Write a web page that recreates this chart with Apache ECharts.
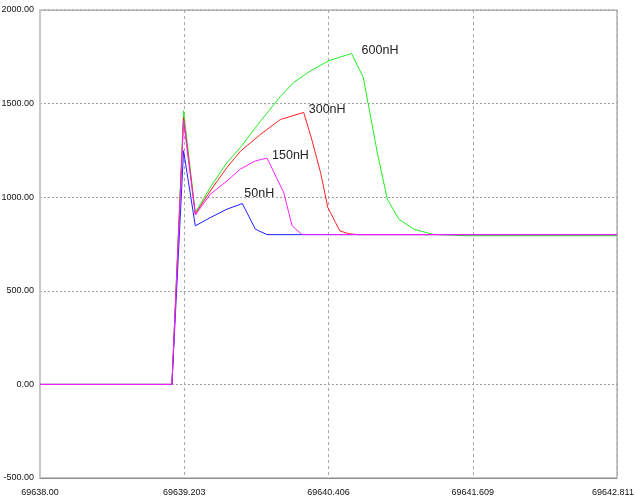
<!DOCTYPE html>
<html>
<head>
<meta charset="utf-8">
<script src="https://cdn.jsdelivr.net/npm/echarts@6/dist/echarts.min.js"></script>
<style>
  html, body { margin: 0; padding: 0; background: #fff; }
  #chart { width: 635px; height: 503px; }
</style>
</head>
<body>
<div id="chart"></div>
<script>
// Time axis: offsets (s) from the start time T0
const T0 = 69638;
const xTickLabels = ['69638.00', '69639.203', '69640.406', '69641.609', '69642.811'];
const yTickLabels = ['-500.00', '0.00', '500.00', '1000.00', '1500.00', '2000.00'];

// 50nH
const t50 = [0, 1.100, 1.197, 1.295, 1.420, 1.559, 1.687, 1.796, 1.893, 4.811];
const v50 = [0, 0, 1248, 847, 891, 936, 966, 829, 800, 800];

// 150nH
const t150 = [0, 1.100, 1.197, 1.295, 1.420, 1.559, 1.670, 1.796, 1.893, 2.032, 2.102, 2.186, 4.811];
const v150 = [0, 0, 1408, 905, 1016, 1087, 1150, 1194, 1209, 1025, 847, 800, 800];

// 300nH
const t300 = [0, 1.100, 1.197, 1.295, 1.420, 1.559, 1.670, 1.837, 2.004, 2.199, 2.269, 2.339, 2.400, 2.464, 2.500, 2.575, 2.650, 4.811];
const v300 = [0, 0, 1426, 910, 1034, 1159, 1245, 1335, 1415, 1453, 1301, 1132, 945, 865, 820, 805, 800, 800];

// 600nH
const t600 = [0, 1.100, 1.197, 1.295, 1.420, 1.559, 1.670, 1.837, 2.004, 2.116, 2.255, 2.408, 2.598, 2.695, 2.734, 2.812, 2.896, 2.993, 3.118, 3.272, 3.558, 4.811];
const v600 = [0, 0, 1462, 918, 1052, 1185, 1265, 1405, 1538, 1613, 1675, 1729, 1768, 1640, 1507, 1239, 989, 882, 829, 802, 794, 794];

const xMax = 4.811;
const xStep = xMax / 4;
const axisFont = '"Liberation Sans", Arial, sans-serif';

const seriesDefs = [
  { name: '600nH', t: t600, v: v600, color: '#22ee22', labelOffset: [10, -3] },
  { name: '300nH', t: t300, v: v300, color: '#ff2020', labelOffset: [5, -3] },
  { name: '50nH',  t: t50,  v: v50,  color: '#2020ff', labelOffset: [2, -10] },
  { name: '150nH', t: t150, v: v150, color: '#ff20ff', labelOffset: [5, -3] }
];

// index of the highest point after the switching spike
function peakIndex(t, v) {
  let best = -1;
  for (let i = 0; i < t.length; i++) {
    if (t[i] > 1.3 && (best < 0 || v[i] > v[best])) best = i;
  }
  return best;
}

const series = seriesDefs.map(d => {
  const p = peakIndex(d.t, d.v);
  return {
    name: d.name,
    type: 'line',
    data: d.t.map((t, i) => [t, d.v[i]]),
    showSymbol: false,
    symbol: 'none',
    lineStyle: { color: d.color, width: 1 },
    itemStyle: { color: d.color },
    emphasis: { disabled: true },
    markPoint: {
      symbol: 'circle',
      symbolSize: 2,
      itemStyle: { color: 'rgba(0,0,0,0)' },
      silent: true,
      data: [{
        coord: [d.t[p], d.v[p]],
        label: {
          show: true,
          formatter: d.name,
          position: 'inside',
          align: 'left',
          verticalAlign: 'middle',
          offset: d.labelOffset,
          color: '#222',
          fontSize: 12.5,
          fontFamily: axisFont
        }
      }]
    }
  };
});

const chart = echarts.init(document.getElementById('chart'), null, { renderer: 'canvas' });
chart.setOption({
  animation: false,
  backgroundColor: '#ffffff',
  grid: {
    left: 40, right: 18, top: 10, bottom: 25,
    outerBoundsMode: 'none',
    containLabel: false,
    show: true, borderColor: '#8c8c8c', borderWidth: 1, backgroundColor: 'transparent'
  },
  xAxis: {
    type: 'value',
    min: 0,
    max: xMax,
    interval: xStep,
    axisLine: { show: true, onZero: false, lineStyle: { color: '#8c8c8c', width: 1 } },
    axisTick: { show: false },
    splitLine: { show: true, lineStyle: { color: '#a8a8a8', type: [3, 3], width: 1 } },
    axisLabel: {
      margin: 10,
      color: '#111',
      fontSize: 9,
      fontFamily: axisFont,
      showMaxLabel: true,
      showMinLabel: true,
      formatter: v => {
        const i = Math.round(v / xStep);
        // the last label is nudged left so it stays inside the canvas
        return i === xTickLabels.length - 1 ? '{last|' + xTickLabels[i] + '}' : (xTickLabels[i] || '');
      },
      rich: {
        last: { fontSize: 9, fontFamily: axisFont, color: '#111', padding: [0, 8, 0, 0] }
      }
    }
  },
  yAxis: {
    type: 'value',
    min: -500,
    max: 2000,
    interval: 500,
    axisLine: { show: true, onZero: false, lineStyle: { color: '#c8c8c8', width: 2 } },
    axisTick: { show: false },
    splitLine: { show: true, lineStyle: { color: '#a0a0a0', type: [2, 2], width: 1 } },
    axisLabel: {
      margin: 6,
      color: '#111',
      fontSize: 9,
      fontFamily: axisFont,
      formatter: v => yTickLabels[Math.round((v + 500) / 500)] || ''
    }
  },
  series: series
});
</script>
</body>
</html>
